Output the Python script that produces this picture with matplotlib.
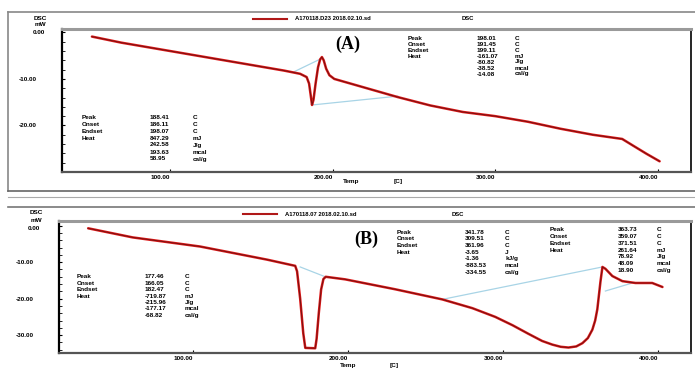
import matplotlib.pyplot as plt
from matplotlib.lines import Line2D

# DSC 곡선 A (온도, mW)
temp_a = [52, 70, 90, 110, 130, 150, 170, 180, 184, 185.5, 186.5, 187.3, 188.2, 189.5, 191,
          192.3, 193.4, 194.5, 196, 198, 201, 205, 210, 220, 240, 260, 280, 300, 320, 340,
          360, 372, 378, 385, 393, 401]
dsc_a = [-0.9, -2.2, -3.4, -4.6, -5.8, -7.0, -8.2, -8.9, -9.6, -11.0, -13.5, -15.6, -14.5, -11.0,
         -7.5, -5.8, -5.3, -6.0, -7.8, -9.2, -10.0, -10.4, -10.9, -11.9, -13.9, -15.7, -17.1,
         -18.0, -19.2, -20.7, -22.0, -22.6, -22.9, -24.4, -26.1, -27.7]
base_a1_t = [176, 192]
base_a1_v = [-8.5, -5.8]
base_a2_t = [187.3, 240]
base_a2_v = [-15.6, -13.7]

# DSC 곡선 B
temp_b = [32.3, 61, 104.5, 147.7, 165.8, 167, 169, 171, 172.3, 178.7, 179.6, 181, 182.5, 184,
          185.5, 198, 230, 260.6, 280, 294.8, 306, 316, 325, 331.6, 337, 342, 347, 351, 354.5,
          357.4, 359.2, 360.6, 362.6, 363.9, 365.8, 370.3, 376.8, 385.2, 396, 402.6]
dsc_b = [-0.7, -3.2, -5.7, -9.3, -11.0, -12.5, -20.0, -29.5, -33.5, -33.6, -31.0, -24.0, -17.5,
         -14.6, -14.0, -14.7, -17.4, -20.2, -22.6, -25.0, -27.3, -29.6, -31.6, -32.6, -33.2,
         -33.4, -33.1, -32.2, -30.8, -28.5, -26.0, -22.9, -15.4, -11.3, -11.8, -13.8, -15.2,
         -15.7, -15.7, -16.8]
base_b1_t = [169, 185.2]
base_b1_v = [-11.3, -14.0]
base_b2_t = [260.6, 363.9]
base_b2_v = [-20.2, -11.3]
base_b3_t = [365.8, 383.2]
base_b3_v = [-17.9, -15.7]

xticks = [100, 200, 300, 400]
xtick_labels = ['100.00', '200.00', '300.00', '400.00']

# 결과 표
labels = ['Peak', 'Onset', 'Endset', 'Heat']
a_left_vals = ['188.41', '186.11', '198.07', '847.29', '242.58', '193.63', '58.95']
a_left_units = ['C', 'C', 'C', 'mJ', 'J/g', 'mcal', 'cal/g']
a_right_vals = ['198.01', '191.45', '199.11', '-161.07', '-80.82', '-38.52', '-14.08']
a_right_units = ['C', 'C', 'C', 'mJ', 'J/g', 'mcal', 'cal/g']
b_left_vals = ['177.46', '166.05', '182.47', '-719.87', '-215.96', '-177.17', '-68.82']
b_left_units = ['C', 'C', 'C', 'mJ', 'J/g', 'mcal', 'cal/g']
b_mid_vals = ['341.78', '309.51', '361.96', '-3.65', '-1.36', '-883.53', '-334.55']
b_mid_units = ['C', 'C', 'C', 'J', 'kJ/g', 'mcal', 'cal/g']
b_right_vals = ['363.73', '359.07', '371.51', '261.64', '78.92', '48.09', '18.90']
b_right_units = ['C', 'C', 'C', 'mJ', 'J/g', 'mcal', 'cal/g']

W, H = 695, 369
RED = '#e01a1a'
DARK = '#4a0c0c'
BLUE = '#a8d4e6'
FS = 4.6

plt.rcParams['font.family'] = ['Liberation Sans', 'DejaVu Sans']
fig = plt.figure(figsize=(W / 100, H / 100), dpi=100)


def fx(px):
    return px / W


def fy(py):
    return 1 - py / H


def txt(px, py, s, **kw):
    kw.setdefault('fontsize', FS)
    kw.setdefault('fontweight', 'bold')
    kw.setdefault('va', 'center')
    fig.text(fx(px), fy(py), s, **kw)


def hline(py, x0, x1, color='#888888', lw=1.2):
    fig.add_artist(Line2D([fx(x0), fx(x1)], [fy(py), fy(py)], color=color, lw=lw))


def vline(px, y0, y1, color='#888888', lw=1.2):
    fig.add_artist(Line2D([fx(px), fx(px)], [fy(y0), fy(y1)], color=color, lw=lw))


def table(x_lab, x_val, x_unit, y0, dy, vals, units):
    for i, lab in enumerate(labels):
        txt(x_lab, y0 + i * dy, lab)
    for i, (v, u) in enumerate(zip(vals, units)):
        txt(x_val, y0 + i * dy, v)
        txt(x_unit, y0 + i * dy, u)


def make_axes(left, right, top, bottom, xlim, ylim, yticks):
    ax = fig.add_axes([fx(left), fy(bottom), fx(right) - fx(left), fy(top) - fy(bottom)])
    ax.set_xlim(*xlim)
    ax.set_ylim(*ylim)
    ax.spines['top'].set_color('#9a9a9a')
    ax.spines['top'].set_linewidth(2.2)
    ax.spines['left'].set_linewidth(1.6)
    ax.spines['bottom'].set_color('#555555')
    ax.spines['bottom'].set_linewidth(1.6)
    ax.spines['right'].set_linewidth(1.2)
    ax.set_xticks(xticks)
    ax.set_xticklabels(xtick_labels, fontsize=FS, fontweight='bold', ha='right')
    ax.set_yticks(yticks)
    ax.set_yticklabels([''] + ['%.2f' % v for v in yticks[1:]], fontsize=FS, fontweight='bold')
    ax.set_yticks(range(int(ylim[0]) - int(ylim[0]) % 2, 1, 2), minor=True)
    ax.tick_params(axis='y', which='both', direction='in', length=2.5, pad=18)
    ax.tick_params(axis='x', direction='in', length=2.5, pad=2)
    return ax


def draw_curve(ax, t, v):
    ax.plot(t, v, color=RED, lw=1.8, solid_capstyle='round')
    ax.plot(t, v, color=DARK, lw=0.7, alpha=0.7)


# 패널 테두리
hline(12, 8, 695)
vline(8, 12, 191)
hline(191, 8, 695, color='#666666')
hline(197, 8, 695, color='#aaaaaa', lw=0.8)
hline(207, 8, 695, color='#777777')

# ---- (A) ----
ax_a = make_axes(62, 691, 29, 172, (33.6, 420.3), (-29.2, 0.73), [0, -10, -20])
ax_a.plot(base_a1_t, base_a1_v, color=BLUE, lw=0.9)
ax_a.plot(base_a2_t, base_a2_v, color=BLUE, lw=0.9)
draw_curve(ax_a, temp_a, dsc_a)

fig.add_artist(Line2D([fx(253), fx(287)], [fy(19), fy(19)], color='#b01818', lw=1.5))
txt(295, 19, 'A170118.D23 2018.02.10.sd', fontsize=4.2)
txt(462, 19, 'DSC', fontsize=4.2)
txt(40, 18, 'DSC', ha='center')
txt(40, 24, 'mW', ha='center')
txt(39, 32, '0.00', ha='center')
txt(348, 44, '(A)', fontsize=13, family='Liberation Serif', ha='center')
txt(343, 182, 'Temp')
txt(394, 182, '[C]')
table(82, 150, 193, 117, 7, a_left_vals, a_left_units)
table(408, 477, 515, 38, 6, a_right_vals, a_right_units)

# ---- (B) ----
ax_b = make_axes(59, 691, 221, 353, (13.5, 421), (-34.9, 1.3), [0, -10, -20, -30])
ax_b.plot(base_b1_t, base_b1_v, color=BLUE, lw=0.9)
ax_b.plot(base_b2_t, base_b2_v, color=BLUE, lw=0.9)
ax_b.plot(base_b3_t, base_b3_v, color=BLUE, lw=0.9)
draw_curve(ax_b, temp_b, dsc_b)

fig.add_artist(Line2D([fx(243), fx(277)], [fy(214), fy(214)], color='#b01818', lw=1.5))
txt(285, 214, 'A170118.07 2018.02.10.sd', fontsize=4.2)
txt(452, 214, 'DSC', fontsize=4.2)
txt(36, 213, 'DSC', ha='center')
txt(36, 220, 'mW', ha='center')
txt(34, 228, '0.00', ha='center')
txt(366, 239, '(B)', fontsize=13, family='Liberation Serif', ha='center')
txt(340, 365, 'Temp')
txt(390, 365, '[C]')
table(77, 145, 185, 277, 6.4, b_left_vals, b_left_units)
table(397, 465, 505, 232, 6.7, b_mid_vals, b_mid_units)
table(550, 618, 657, 230, 6.7, b_right_vals, b_right_units)

plt.savefig('out.png', dpi=100)
